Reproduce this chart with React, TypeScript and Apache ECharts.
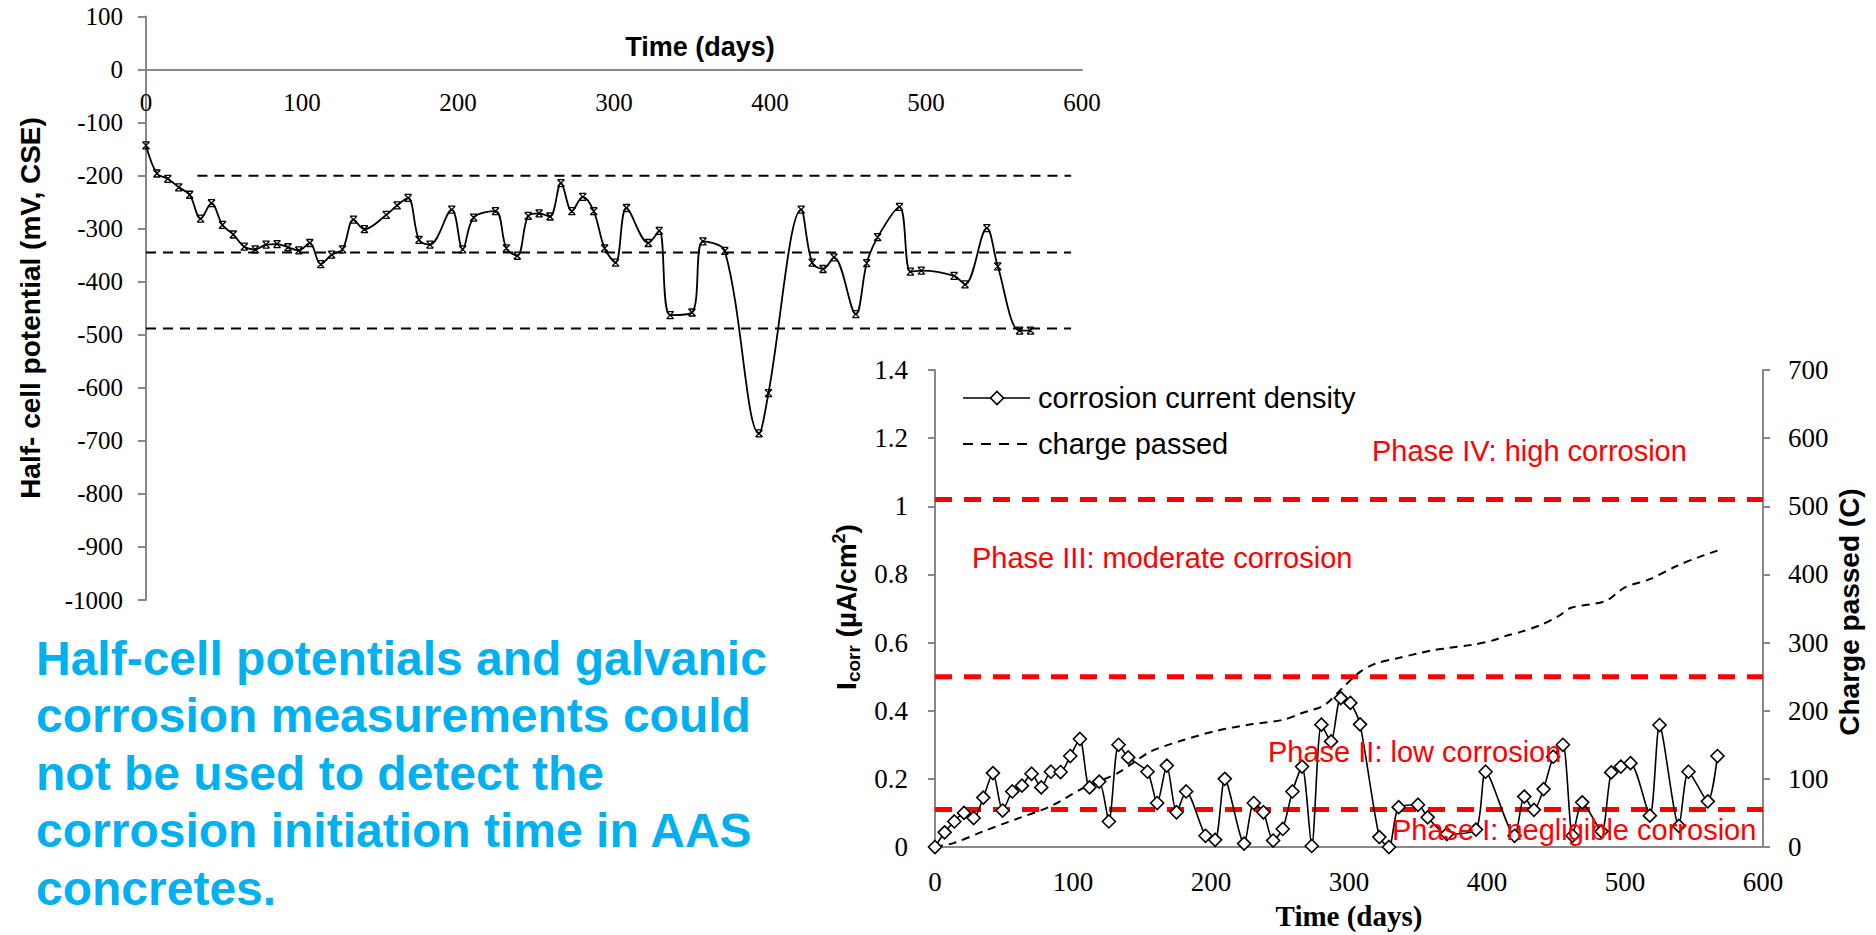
import React, { useEffect, useRef } from "react";
import * as echarts from "echarts";

// ---------- Data ----------
const potDays = [0, 7, 14, 21, 28, 35, 42, 49, 56, 63, 70, 77, 84, 91, 98, 105, 112, 119, 126, 133, 140, 154, 161, 168, 175, 182, 196, 203, 210, 224, 231, 238, 245, 252, 259, 266, 273, 280, 287, 294, 301, 308, 322, 329, 336, 350, 357, 371, 393, 399, 420, 427, 434, 441, 455, 462, 469, 483, 490, 497, 518, 525, 539, 546, 560, 567];
const potValues = [-143, -196, -206, -222, -236, -281, -252, -293, -311, -334, -339, -330, -329, -335, -341, -327, -367, -349, -339, -283, -301, -274, -256, -242, -321, -330, -264, -339, -279, -267, -337, -351, -276, -271, -277, -214, -267, -240, -267, -337, -364, -261, -327, -304, -463, -458, -324, -342, -686, -610, -264, -364, -376, -354, -461, -365, -316, -259, -381, -379, -389, -405, -299, -371, -492, -492];

const potThresholds = [-200, -345, -488];
const potThresholdStart = [33, 0, 0];
const potThresholdEnd = 593;

const icorrDays = [0, 7, 14, 21, 28, 35, 42, 49, 56, 63, 70, 77, 84, 91, 98, 105, 112, 119, 126, 133, 140, 154, 161, 168, 175, 182, 196, 203, 210, 224, 231, 238, 245, 252, 259, 266, 273, 280, 287, 294, 301, 308, 322, 329, 336, 350, 357, 371, 392, 399, 420, 427, 434, 441, 448, 455, 462, 469, 483, 490, 497, 504, 518, 525, 539, 546, 560, 567];
const icorrValues = [0, 0.043, 0.075, 0.1, 0.085, 0.145, 0.217, 0.107, 0.163, 0.18, 0.215, 0.175, 0.221, 0.22, 0.267, 0.317, 0.175, 0.192, 0.075, 0.3, 0.263, 0.221, 0.129, 0.239, 0.102, 0.163, 0.033, 0.021, 0.2, 0.01, 0.129, 0.102, 0.019, 0.053, 0.163, 0.236, 0.003, 0.359, 0.31, 0.437, 0.423, 0.36, 0.029, 0.0, 0.117, 0.124, 0.087, 0.038, 0.051, 0.221, 0.033, 0.148, 0.109, 0.17, 0.265, 0.3, 0.033, 0.131, 0.046, 0.219, 0.236, 0.246, 0.092, 0.358, 0.062, 0.221, 0.134, 0.267];

const chargeDays = [0, 14, 35, 59, 84, 108, 132, 144, 156, 180, 205, 229, 253, 265, 282, 295, 308, 319, 335, 350, 361, 372, 390, 404, 414, 425, 438, 452, 461, 486, 500, 518, 537, 553, 567];
const chargeValues = [0, 6, 23, 41, 60, 87, 108, 124, 140, 157, 171, 180, 187, 196, 208, 233, 257, 269, 277, 284, 289, 292, 297, 303, 310, 316, 325, 339, 351, 361, 381, 393, 412, 425, 435];

const phaseLimits = [0.11, 0.5, 1.02];
const phaseLabels = [
  "Phase IV: high corrosion",
  "Phase III: moderate corrosion",
  "Phase II: low corrosion",
  "Phase I: negligible corrosion",
];
const phaseLabelPos = [
  [1372, 451],
  [972, 558],
  [1268, 752],
  [1392, 830],
];

const legendLabels = ["corrosion current density", "charge passed"];

const paragraphLines = [
  "Half-cell potentials and galvanic",
  "corrosion measurements could",
  "not be used to detect the",
  "corrosion initiation time in AAS",
  "concretes.",
];

const SERIF = "'Liberation Serif', 'Times New Roman', serif";
const SANS = "'Liberation Sans', Arial, sans-serif";
const AXIS_GRAY = "#888888";

const zip = (xs: number[], ys: number[]) => xs.map((x, i) => [x, ys[i]]);

export default function App() {
  const ref = useRef<HTMLDivElement>(null);

  useEffect(() => {
    if (!ref.current) return;
    const chart = echarts.init(ref.current, null, { renderer: "svg" });

    const topGrid = { left: 146, top: 16.5, width: 936, height: 583.5 };
    const potMin = -1000;
    const potMax = 100;
    const zeroOffset = (topGrid.height * (potMax - 0)) / (potMax - potMin);

    const topThresholdSeries = potThresholds.map((v, i) => ({
      type: "line",
      name: "thr" + i,
      xAxisIndex: 0,
      yAxisIndex: 0,
      data: [
        [potThresholdStart[i], v],
        [potThresholdEnd, v],
      ],
      symbol: "none",
      silent: true,
      lineStyle: { color: "#000", width: 2, type: [10, 7] },
      z: 1,
    }));

    const phaseSeries = phaseLimits.map((v, i) => ({
      type: "line",
      name: "phase" + i,
      xAxisIndex: 1,
      yAxisIndex: 1,
      data: [
        [0, v],
        [600, v],
      ],
      symbol: "none",
      silent: true,
      lineStyle: { color: "#FF0000", width: 5, type: [17, 12] },
      z: 1,
    }));

    // manual legend
    const lgX = 963;
    const lgY = [398, 444];
    const legendGraphics: any[] = [
      {
        type: "line",
        shape: { x1: lgX, y1: lgY[0], x2: lgX + 67, y2: lgY[0] },
        style: { stroke: "#000", lineWidth: 1.6 },
      },
      {
        type: "polygon",
        shape: {
          points: [
            [lgX + 34, lgY[0] - 6.5],
            [lgX + 40.5, lgY[0]],
            [lgX + 34, lgY[0] + 6.5],
            [lgX + 27.5, lgY[0]],
          ],
        },
        style: { fill: "#fff", stroke: "#000", lineWidth: 1.6 },
      },
      {
        type: "line",
        shape: { x1: lgX, y1: lgY[1], x2: lgX + 64, y2: lgY[1] },
        style: { stroke: "#000", lineWidth: 2, lineDash: [10, 8] },
      },
      ...legendLabels.map((t, i) => ({
        type: "text",
        x: lgX + 75,
        y: lgY[i],
        style: { text: t, fontSize: 29, fontFamily: SANS, fill: "#000", align: "left", verticalAlign: "middle" },
      })),
    ];

    const graphics: any[] = [
      {
        type: "text",
        x: 700,
        y: 47,
        style: { text: "Time (days)", fontSize: 27, fontWeight: "bold", fontFamily: SANS, fill: "#000", align: "center", verticalAlign: "middle" },
      },
      {
        type: "text",
        x: 30,
        y: 308,
        rotation: Math.PI / 2,
        style: { text: "Half- cell potential (mV, CSE)", fontSize: 28, fontWeight: "bold", fontFamily: SANS, fill: "#000", align: "center", verticalAlign: "middle" },
      },
      {
        type: "text",
        x: 846,
        y: 607,
        rotation: Math.PI / 2,
        style: {
          text: "{a|I}{s|corr}{a| (µA/cm}{p|2}{a|)}",
          fontFamily: SANS,
          fill: "#000",
          align: "center",
          verticalAlign: "middle",
          rich: {
            a: { fontSize: 28, fontWeight: "bold", fontFamily: SANS, fill: "#000" },
            s: { fontSize: 19, fontWeight: "bold", fontFamily: SANS, fill: "#000", padding: [14, 0, 0, 0] },
            p: { fontSize: 18, fontWeight: "bold", fontFamily: SANS, fill: "#000", padding: [0, 0, 14, 0] },
          },
        },
      },
      {
        type: "text",
        x: 1849,
        y: 612,
        rotation: Math.PI / 2,
        style: { text: "Charge passed (C)", fontSize: 28, fontWeight: "bold", fontFamily: SANS, fill: "#000", align: "center", verticalAlign: "middle" },
      },
      {
        type: "text",
        x: 1349,
        y: 916,
        style: { text: "Time (days)", fontSize: 29, fontWeight: "bold", fontFamily: SERIF, fill: "#000", align: "center", verticalAlign: "middle" },
      },
      ...phaseLabels.map((t, i) => ({
        type: "text",
        x: phaseLabelPos[i][0],
        y: phaseLabelPos[i][1],
        z: 10,
        style: { text: t, fontSize: 29, fontFamily: SANS, fill: "#FF0000", align: "left", verticalAlign: "middle" },
      })),
      ...paragraphLines.map((t, i) => ({
        type: "text",
        x: 36,
        y: 658 + i * 57.5,
        style: { text: t, fontSize: 48, fontWeight: "bold", fontFamily: SANS, fill: "#00B0F0", align: "left", verticalAlign: "middle" },
      })),
      ...legendGraphics,
    ];

    const option: any = {
      animation: false,
      backgroundColor: "#ffffff",
      grid: [
        { ...topGrid, containLabel: false },
        { left: 935, top: 370, width: 828, height: 477, containLabel: false },
      ],
      xAxis: [
        {
          type: "value",
          gridIndex: 0,
          position: "top",
          offset: -zeroOffset,
          min: 0,
          max: 600,
          interval: 100,
          axisLine: { show: true, onZero: false, lineStyle: { color: AXIS_GRAY, width: 2 } },
          axisTick: { show: false },
          axisLabel: { inside: true, margin: 20, fontSize: 25, fontFamily: SERIF, color: "#000" },
          splitLine: { show: false },
        },
        {
          type: "value",
          gridIndex: 1,
          min: 0,
          max: 600,
          interval: 100,
          axisLine: { show: true, onZero: false, lineStyle: { color: AXIS_GRAY, width: 2 } },
          axisTick: { show: false },
          axisLabel: { margin: 21, fontSize: 27, fontFamily: SERIF, color: "#000" },
          splitLine: { show: false },
        },
      ],
      yAxis: [
        {
          type: "value",
          gridIndex: 0,
          min: potMin,
          max: potMax,
          interval: 100,
          axisLine: { show: true, onZero: false, lineStyle: { color: AXIS_GRAY, width: 2 } },
          axisTick: { show: true, inside: false, length: 8, lineStyle: { color: AXIS_GRAY, width: 2 } },
          axisLabel: { margin: 23, fontSize: 25, fontFamily: SERIF, color: "#000", formatter: (v: number) => String(v) },
          splitLine: { show: false },
        },
        {
          type: "value",
          gridIndex: 1,
          position: "left",
          min: 0,
          max: 1.4,
          interval: 0.2,
          axisLine: { show: true, onZero: false, lineStyle: { color: AXIS_GRAY, width: 2 } },
          axisTick: { show: true, inside: false, length: 7, lineStyle: { color: AXIS_GRAY, width: 2 } },
          axisLabel: {
            margin: 27,
            fontSize: 27,
            fontFamily: SERIF,
            color: "#000",
            formatter: (v: number) => String(Math.round(v * 10) / 10),
          },
          splitLine: { show: false },
        },
        {
          type: "value",
          gridIndex: 1,
          position: "right",
          min: 0,
          max: 700,
          interval: 100,
          axisLine: { show: true, onZero: false, lineStyle: { color: AXIS_GRAY, width: 2 } },
          axisTick: { show: true, inside: false, length: 7, lineStyle: { color: AXIS_GRAY, width: 2 } },
          axisLabel: { margin: 25, fontSize: 27, fontFamily: SERIF, color: "#000", formatter: (v: number) => String(v) },
          splitLine: { show: false },
        },
      ],
      series: [
        ...topThresholdSeries,
        {
          type: "line",
          name: "Half-cell potential",
          xAxisIndex: 0,
          yAxisIndex: 0,
          data: zip(potDays, potValues),
          smooth: 0.35,
          symbol: "path://M0,0L10,10M10,0L0,10M0,0L10,0M0,10L10,10",
          symbolSize: 7,
          itemStyle: { color: "#000", borderColor: "#000", borderWidth: 1.3 },
          lineStyle: { color: "#000", width: 1.8 },
          z: 3,
        },
        ...phaseSeries,
        {
          type: "line",
          name: "charge passed",
          xAxisIndex: 1,
          yAxisIndex: 2,
          data: zip(chargeDays, chargeValues),
          smooth: 0.3,
          symbol: "none",
          lineStyle: { color: "#000", width: 2, type: [8, 6] },
          itemStyle: { color: "#000" },
          z: 2,
        },
        {
          type: "line",
          name: "corrosion current density",
          xAxisIndex: 1,
          yAxisIndex: 1,
          data: zip(icorrDays, icorrValues),
          smooth: 0.25,
          symbol: "diamond",
          symbolSize: 13,
          itemStyle: { color: "#ffffff", borderColor: "#000", borderWidth: 1.6 },
          lineStyle: { color: "#000", width: 1.6 },
          z: 4,
        },
      ],
      graphic: graphics,
    };

    chart.setOption(option);
    return () => {
      chart.dispose();
    };
  }, []);

  return (
    <div
      ref={ref}
      style={{ position: "absolute", left: 0, top: 0, width: 1876, height: 935, background: "#fff" }}
    />
  );
}
